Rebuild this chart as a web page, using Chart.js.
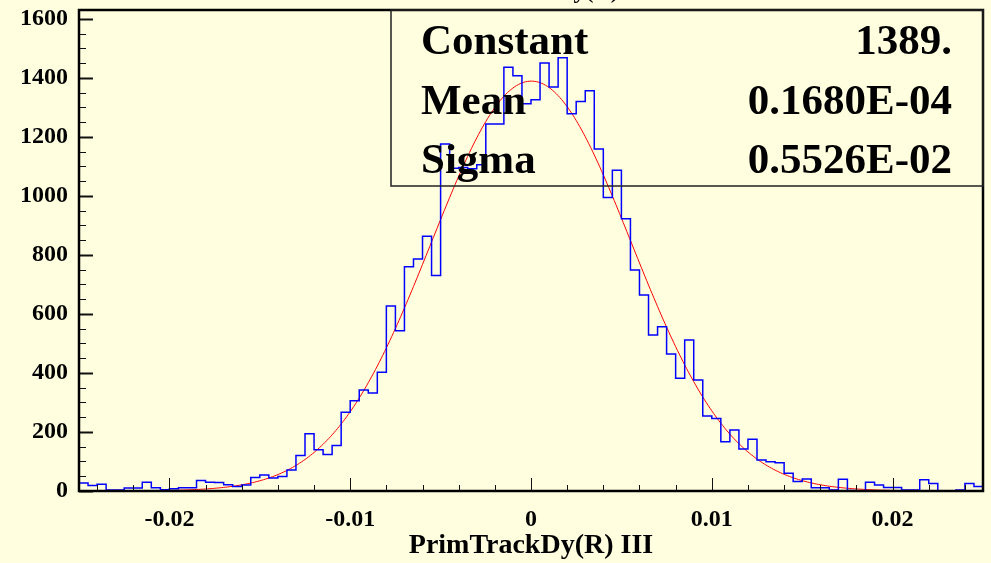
<!DOCTYPE html>
<html>
<head>
<meta charset="utf-8">
<script src="https://cdn.jsdelivr.net/npm/chart.js@4.4.1/dist/chart.umd.min.js"></script>
<style>
  html, body { margin: 0; padding: 0; background: #ffffe0; }
  #wrap { width: 991px; height: 563px; }
</style>
</head>
<body>
<div id="wrap"><canvas id="dyChart" width="991" height="563"></canvas></div>
<script>
// PrimTrackDy(R) III : 100 bins from -0.025 to 0.025
const binLow = -0.025;
const binWidth = 0.0005;
const counts = [
  27, 19, 23, 3, 3, 10, 10, 30, 11, 4,
  8, 11, 11, 36, 30, 29, 21, 15, 20, 46,
  54, 44, 49, 71, 120, 194, 140, 124, 154, 267,
  306, 342, 332, 402, 627, 543, 760, 786, 863, 730,
  1176, 1094, 1096, 1092, 1106, 1244, 1244, 1436, 1407, 1312,
  1326, 1450, 1369, 1468, 1278, 1320, 1356, 1159, 995, 1087,
  923, 749, 664, 529, 557, 464, 382, 512, 376, 254,
  246, 167, 207, 142, 175, 105, 99, 96, 60, 32,
  41, 11, 11, 3, 40, 2, 1, 30, 20, 12,
  12, 3, 3, 38, 25, 0, 0, 3, 25, 15
];

// gaussian fit parameters
const fitConstant = 1389;
const fitMean = 0.1680e-4;
const fitSigma = 0.5526e-2;

const xTickValues = [-0.02, -0.01, 0, 0.01, 0.02];
const xTickLabels = ["-0.02", "-0.01", "0", "0.01", "0.02"];
const yTickValues = [0, 200, 400, 600, 800, 1000, 1200, 1400, 1600];
const statNames = ["Constant", "Mean", "Sigma"];
const statValues = ["1389.", "0.1680E-04", "0.5526E-02"];

const serif = "'Liberation Serif', 'Times New Roman', serif";

const histPoints = counts.map((c, i) => ({ x: binLow + i * binWidth, y: c }));
histPoints.push({ x: binLow + counts.length * binWidth, y: counts[counts.length - 1] });

const fitPoints = [];
for (let i = 0; i <= 500; i++) {
  const x = binLow + i * 0.0001;
  const t = (x - fitMean) / fitSigma;
  fitPoints.push({ x: x, y: fitConstant * Math.exp(-0.5 * t * t) });
}

// keep the axis labels from pushing the plot frame around
const noScalePadding = s => {
  s.paddingTop = 0;
  s.paddingBottom = 0;
  s.paddingLeft = 0;
  s.paddingRight = 0;
};

// frame, inward tick marks, stats box and the clipped title
const decorations = {
  id: "decorations",
  afterDatasetsDraw(chart) {
    const { ctx, chartArea: a, scales } = chart;
    const xs = scales.x, ys = scales.y;
    ctx.save();

    ctx.strokeStyle = "#111";
    for (let v = 0; v <= 1600; v += 50) {
      const y = Math.round(ys.getPixelForValue(v)) + 0.5;
      const len = v % 200 === 0 ? 14 : 7;
      ctx.beginPath();
      ctx.lineWidth = v % 200 === 0 ? 2 : 1;
      ctx.moveTo(a.left, y);
      ctx.lineTo(a.left + len, y);
      ctx.stroke();
    }
    ctx.lineWidth = 1;
    for (let k = -12; k <= 12; k++) {
      const x = Math.round(xs.getPixelForValue(k * 0.002)) + 0.5;
      ctx.beginPath();
      ctx.moveTo(x, a.bottom);
      ctx.lineTo(x, a.bottom - 6);
      ctx.stroke();
    }
    xTickValues.forEach(v => {
      const x = Math.round(xs.getPixelForValue(v)) + 0.5;
      ctx.beginPath();
      ctx.moveTo(x, a.bottom);
      ctx.lineTo(x, a.bottom - 13);
      ctx.stroke();
    });

    ctx.strokeStyle = "#000";
    ctx.lineWidth = 2.5;
    ctx.strokeRect(a.left, a.top, a.right - a.left, a.bottom - a.top);

    // statistics box
    ctx.lineWidth = 1.5;
    ctx.strokeStyle = "#222";
    ctx.strokeRect(391, a.top, a.right - 391, 176);
    ctx.fillStyle = "#000";
    ctx.font = "bold 43px " + serif;
    ctx.textBaseline = "alphabetic";
    statNames.forEach((name, i) => {
      const base = 54 + i * 59.5;
      ctx.textAlign = "left";
      ctx.fillText(name, 421, base);
      ctx.textAlign = "right";
      ctx.fillText(statValues[i], 952, base);
    });

    // histogram title, mostly above the canvas edge
    ctx.font = "bold 24px " + serif;
    ctx.textAlign = "center";
    ctx.fillText("PrimTrackDy(R)", (a.left + a.right) / 2, -2);
    ctx.restore();
  }
};

new Chart(document.getElementById("dyChart"), {
  type: "line",
  data: {
    datasets: [
      {
        data: histPoints,
        borderColor: "#0000ff",
        borderWidth: 1.5,
        stepped: "before",
        pointRadius: 0,
        fill: false
      },
      {
        data: fitPoints,
        borderColor: "#ff0000",
        borderWidth: 1,
        pointRadius: 0,
        tension: 0,
        fill: false
      }
    ]
  },
  options: {
    responsive: false,
    animation: false,
    devicePixelRatio: 1,
    layout: { padding: { top: 10, right: 8, left: 0, bottom: 0 } },
    plugins: {
      legend: { display: false },
      tooltip: { enabled: false }
    },
    scales: {
      x: {
        type: "linear",
        min: -0.025,
        max: 0.025,
        grid: { display: false, drawTicks: false },
        border: { display: false },
        afterBuildTicks: s => { s.ticks = xTickValues.map(v => ({ value: v })); },
        afterFit: s => { s.height = 72; noScalePadding(s); },
        ticks: {
          autoSkip: false,
          maxRotation: 0,
          padding: 14,
          color: "#000",
          font: { family: serif, size: 24, weight: "bold" },
          callback: (v, i) => xTickLabels[i]
        },
        title: {
          display: true,
          text: "PrimTrackDy(R) III",
          color: "#000",
          font: { family: serif, size: 28, weight: "bold", lineHeight: 1.2 },
          padding: { top: 0, bottom: 0 }
        }
      },
      y: {
        min: 0,
        max: 1630,
        grid: { display: false, drawTicks: false },
        border: { display: false },
        afterBuildTicks: s => { s.ticks = yTickValues.map(v => ({ value: v })); },
        afterFit: s => { s.width = 79; noScalePadding(s); },
        ticks: {
          padding: 11,
          color: "#000",
          font: { family: serif, size: 24, weight: "bold" },
          callback: v => String(v)
        }
      }
    }
  },
  plugins: [decorations]
});
</script>
</body>
</html>
